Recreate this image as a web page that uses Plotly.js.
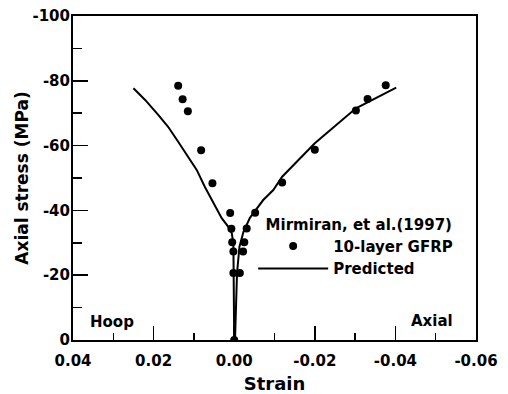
<!DOCTYPE html>
<html>
<head>
<meta charset="utf-8">
<script src="https://cdn.plot.ly/plotly-3.0.1.min.js"></script>
<style>
html,body{margin:0;padding:0;background:#fff}
#chart{width:508px;height:394px}
</style>
</head>
<body>
<div id="chart"></div>
<script>
// Test data (Mirmiran et al., 1997, 10-layer GFRP)
var hoopTestStrain = [0.0139, 0.0128, 0.0115, 0.0082, 0.0054, 0.0010, 0.0007, 0.0005, 0.0002, 0.0002, 0.0000];
var hoopTestStress = [-78.5, -74.3, -70.6, -58.6, -48.4, -39.2, -34.3, -30.2, -27.3, -20.7, 0];
var axialTestStrain = [-0.0376, -0.0331, -0.0302, -0.0200, -0.0119, -0.0052, -0.0031, -0.0025, -0.0022, -0.0014];
var axialTestStress = [-78.6, -74.4, -70.8, -58.7, -48.6, -39.3, -34.4, -30.2, -27.3, -20.7];

// Predicted curves
var hoopPredStrain = [0.0250, 0.0221, 0.0188, 0.0164, 0.0139, 0.0114, 0.0093, 0.0073, 0.0052, 0.0031, 0.0015, 0.0006, 0.0002, 0.0001, 0.0000];
var hoopPredStress = [-77.7, -74.1, -69.4, -65.8, -61.2, -56.6, -52.5, -47.3, -42.2, -37.6, -35.0, -32.9, -29.8, -21.6, 0];
var axialPredStrain = [-0.0002, -0.0007, -0.0013, -0.0023, -0.0039, -0.0072, -0.0097, -0.0119, -0.0200, -0.0302, -0.0402];
var axialPredStress = [0, -20.6, -28.8, -33.4, -37.7, -43.2, -46.3, -50.4, -60.7, -71.5, -77.9];

// Tick labels
var xTickVals = [0.04, 0.02, 0.00, -0.02, -0.04, -0.06];
var xTickText = ["0.04", "0.02", "0.00", "-0.02", "-0.04", "-0.06"];
var yTickVals = [0, -20, -40, -60, -80, -100];
var yTickText = ["0", "-20", "-40", "-60", "-80", "-100"];

var FONT = "DejaVu Sans, Arial, sans-serif";

var traces = [
  {x: hoopTestStrain.concat([null]).concat(axialTestStrain), y: hoopTestStress.concat([null]).concat(axialTestStress),
   mode: "markers", type: "scatter", name: "10-layer GFRP",
   marker: {symbol: "circle", size: 8, color: "#000"}},
  {x: hoopPredStrain, y: hoopPredStress, mode: "lines", type: "scatter", name: "Predicted",
   line: {color: "#000", width: 2}},
  {x: axialPredStrain, y: axialPredStress, mode: "lines", type: "scatter", name: "Predicted",
   showlegend: false, line: {color: "#000", width: 2}}
];

var layout = {
  width: 508, height: 394,
  margin: {l: 73, r: 32, t: 16, b: 54},
  paper_bgcolor: "#fff", plot_bgcolor: "#fff",
  font: {family: FONT, color: "#000", size: 15, weight: "bold"},
  showlegend: true,
  legend: {
    x: 0.447, y: 0.4007, xanchor: "left", yanchor: "top",
    bgcolor: "rgba(0,0,0,0)", borderwidth: 0, itemwidth: 70,
    font: {family: FONT, size: 15, color: "#000", weight: "bold"},
    title: {text: "\u00a0\u00a0Mirmiran, et al.(1997)", side: "top", font: {family: FONT, size: 15, color: "#000", weight: "bold"}},
    tracegroupgap: 0
  },
  xaxis: {
    range: [0.04, -0.06], showgrid: false, zeroline: false,
    showline: true, linecolor: "#000", linewidth: 2, mirror: true,
    tickmode: "array", tickvals: xTickVals, ticktext: xTickText,
    ticks: "inside", ticklen: 14, tickwidth: 1.5, tickcolor: "#000",
    ticklabelstandoff: 6,
    tickfont: {family: FONT, size: 15, color: "#000", weight: "bold"},
    minor: {dtick: 0.01, tick0: 0, ticks: "inside", ticklen: 7, tickwidth: 1.5, tickcolor: "#000", showgrid: false},
    title: {text: "Strain", standoff: 8, font: {family: FONT, size: 18, color: "#000", weight: "bold"}}
  },
  yaxis: {
    range: [0, -100], showgrid: false, zeroline: false,
    showline: true, linecolor: "#000", linewidth: 2, mirror: true,
    tickmode: "array", tickvals: yTickVals, ticktext: yTickText,
    ticks: "inside", ticklen: 15, tickwidth: 1.5, tickcolor: "#000",
    ticklabelstandoff: -2,
    tickfont: {family: FONT, size: 15, color: "#000", weight: "bold"},
    minor: {dtick: 10, tick0: 0, ticks: "inside", ticklen: 9, tickwidth: 1.5, tickcolor: "#000", showgrid: false},
    title: {text: "Axial stress (MPa)", standoff: 0, font: {family: FONT, size: 17, color: "#000", weight: "bold"}}
  },
  annotations: [
    {x: 0.0302, y: -5.7, xref: "x", yref: "y", text: "Hoop", showarrow: false,
     font: {family: FONT, size: 15, color: "#000", weight: "bold"}},
    {x: -0.0491, y: -5.9, xref: "x", yref: "y", text: "Axial", showarrow: false,
     font: {family: FONT, size: 15, color: "#000", weight: "bold"}}
  ]
};

Plotly.newPlot("chart", traces, layout, {displayModeBar: false, staticPlot: true});
</script>
</body>
</html>
